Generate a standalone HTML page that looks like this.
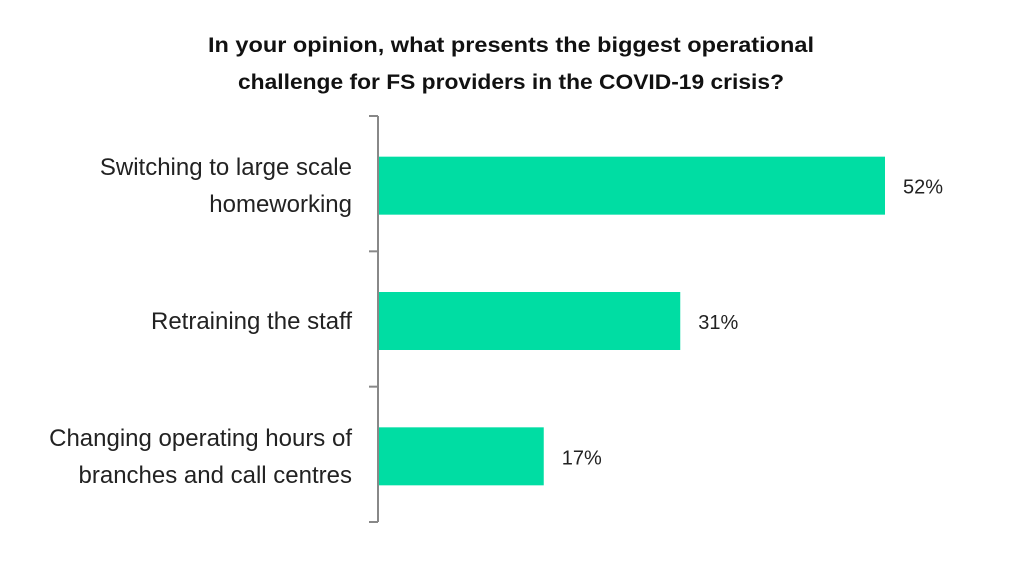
<!DOCTYPE html>
<html><head><meta charset="utf-8"><style>
body{margin:0;background:#fff;}
svg{display:block;font-family:"Liberation Sans Narrow","Liberation Sans",sans-serif;}
</style></head><body>
<svg id="chart" width="1024" height="576">
<text x="511" y="52" text-anchor="middle" font-size="21" font-weight="bold" fill="#111" textLength="606" lengthAdjust="spacingAndGlyphs">In your opinion, what presents the biggest operational</text>
<text x="511" y="89" text-anchor="middle" font-size="21" font-weight="bold" fill="#111" textLength="546" lengthAdjust="spacingAndGlyphs">challenge for FS providers in the COVID-19 crisis?</text>
<g id="axis"></g>
<g id="bars"></g>
</svg>
<script>
const categories=[["Switching to large scale","homeworking"],["Retraining the staff"],["Changing operating hours of","branches and call centres"]];
const values=[52,31,17];
const valueLabels=["52%","31%","17%"];
const ns="http://www.w3.org/2000/svg";
const x0=378, pxPer=9.75, yTop=116, yBottom=522;
const band=(yBottom-yTop)/categories.length;
const xs=v=>x0+v*pxPer;
const ax=document.getElementById('axis'), bg=document.getElementById('bars');
function mk(tag,attrs,parent){const e=document.createElementNS(ns,tag);for(const k in attrs)e.setAttribute(k,attrs[k]);parent.appendChild(e);return e;}
const line=mk('line',{x1:x0,y1:yTop,x2:x0,y2:yBottom,stroke:'#888','stroke-width':2},ax);


for(let i=0;i<=categories.length;i++){
  const y=yTop+i*band;
  const t=mk('line',{x1:x0-9,y1:y,x2:x0,y2:y,stroke:'#888','stroke-width':2},ax);
  
  
}
values.forEach((v,i)=>{
  const yc=yTop+band*(i+0.5)+2;
  const r=mk('rect',{x:x0+1,y:yc-29,width:xs(v)-x0-1,height:58,fill:'#00DDA3'},bg);
  
  
  const vl=mk('text',{x:xs(v)+18,y:yc+8,'font-size':20,fill:'#222'},bg);
  vl.textContent=valueLabels[i];
  
  
  const lines=categories[i];
  lines.forEach((s,j)=>{
    const y=yc+8+(j-(lines.length-1)/2)*37;
    const c=mk('text',{x:x0-26,y:y,'font-size':24,fill:'#222','text-anchor':'end'},bg);
    c.textContent=s;
    
    
  });
});
</script>
</body></html>
